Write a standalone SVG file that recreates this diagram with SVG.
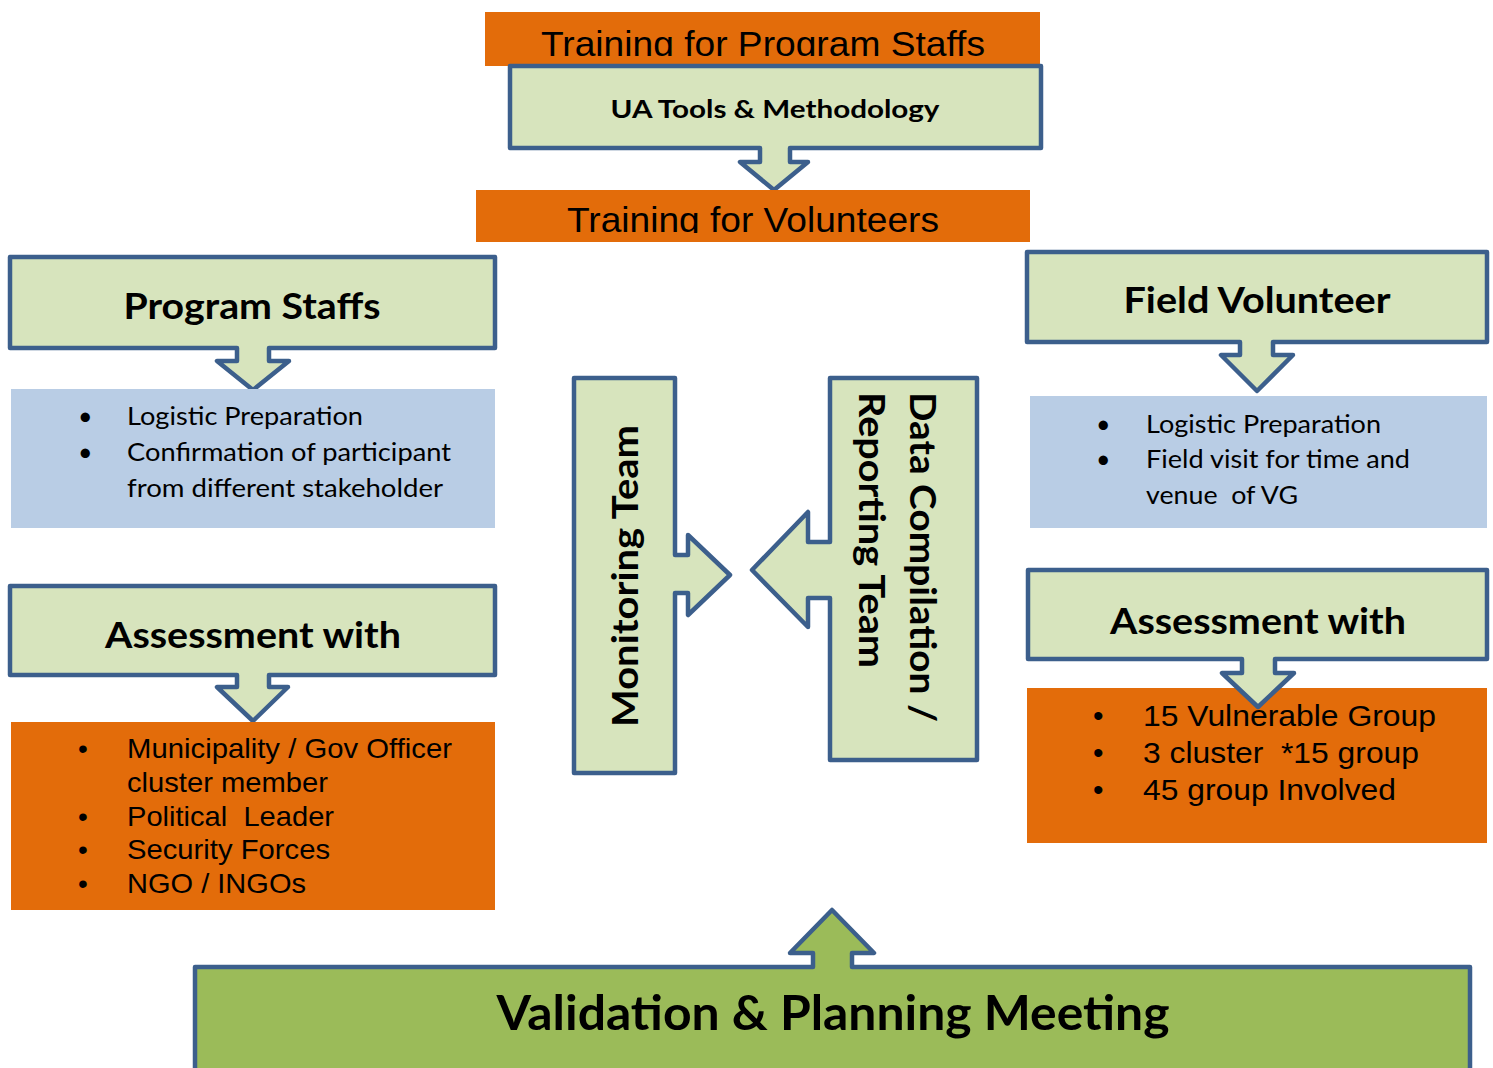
<svg xmlns="http://www.w3.org/2000/svg" width="1493" height="1068" viewBox="0 0 1493 1068">
<style>
.box{fill:#D7E4BD;stroke:#3C5F8C;stroke-width:4.5;stroke-linejoin:round}
.val{fill:#9BBB59;stroke:#3C5F8C;stroke-width:4.5;stroke-linejoin:round}
.org{fill:#E36C0A}
.blu{fill:#B9CDE5}
.ar{font-family:"Liberation Sans",Arial,sans-serif;fill:#000}
.cal{font-family:Lato,"Open Sans",sans-serif;fill:#000}
.b{font-weight:bold}
</style>
<defs>
<clipPath id="c1"><rect x="485" y="12" width="555" height="44"/></clipPath>
<clipPath id="c2"><rect x="476" y="190" width="554" height="43"/></clipPath>
</defs>
<rect width="1493" height="1068" fill="#fff"/>
<g id="connectors"/>
<g id="training-staff">
<rect class="org" x="485" y="12" width="555" height="54"/>
<text class="ar" x="763" y="56" font-size="35" text-anchor="middle" textLength="444" lengthAdjust="spacingAndGlyphs" clip-path="url(#c1)">Training for Program Staffs</text>
</g>
<g id="ua-tools">
<path class="box" d="M510,66 H1041 V148 H790 V162 H808 L774,190 L740,162 H760 V148 H510 Z"/>
<text class="cal b" x="775" y="118" font-size="25" text-anchor="middle" textLength="329" lengthAdjust="spacingAndGlyphs">UA Tools &amp; Methodology</text>
</g>
<g id="training-volunteers">
<rect class="org" x="476" y="190" width="554" height="52"/>
<text class="ar" x="753" y="232" font-size="35" text-anchor="middle" textLength="372" lengthAdjust="spacingAndGlyphs" clip-path="url(#c2)">Training for Volunteers</text>
</g>
<g id="program-staffs">
<path class="box" d="M10,257 H495 V348 H269 V361 H289 L253,390 L217,361 H237 V348 H10 Z"/>
<text class="cal b" x="252" y="319" font-size="36" text-anchor="middle" textLength="257" lengthAdjust="spacingAndGlyphs">Program Staffs</text>
</g>
<g id="staff-tasks">
<rect class="blu" x="11" y="389" width="484" height="139"/>
<g class="cal" font-size="25">
<text x="78" y="425">•</text><text x="127" y="425" textLength="236" lengthAdjust="spacingAndGlyphs">Logistic Preparation</text>
<text x="78" y="461">•</text><text x="127" y="461" textLength="324" lengthAdjust="spacingAndGlyphs">Confirmation of participant</text>
<text x="127" y="497" textLength="316" lengthAdjust="spacingAndGlyphs">from different stakeholder</text>
</g>
</g>
<g id="field-volunteer">
<path class="box" d="M1027,252 H1487 V342 H1273 V355 H1293 L1257,391 L1221,355 H1240 V342 H1027 Z"/>
<text class="cal b" x="1257" y="313" font-size="36" text-anchor="middle" textLength="267" lengthAdjust="spacingAndGlyphs">Field Volunteer</text>
</g>
<g id="volunteer-tasks">
<rect class="blu" x="1030" y="396" width="457" height="132"/>
<g class="cal" font-size="25">
<text x="1096" y="433">•</text><text x="1146" y="433" textLength="235" lengthAdjust="spacingAndGlyphs">Logistic Preparation</text>
<text x="1096" y="468">•</text><text x="1146" y="468" textLength="264" lengthAdjust="spacingAndGlyphs">Field visit for time and</text>
<text x="1146" y="504" textLength="152" lengthAdjust="spacingAndGlyphs" xml:space="preserve">venue  of VG</text>
</g>
</g>
<g id="assessment-left">
<path class="box" d="M10,586 H495 V675 H269 V687 H288 L253,721 L217,687 H237 V675 H10 Z"/>
<text class="cal b" x="253" y="648" font-size="36" text-anchor="middle" textLength="296" lengthAdjust="spacingAndGlyphs">Assessment with</text>
</g>
<g id="stakeholders">
<rect class="org" x="11" y="722" width="484" height="188"/>
<g class="ar" font-size="28">
<text x="78" y="758">•</text><text x="127" y="758" textLength="325" lengthAdjust="spacingAndGlyphs">Municipality / Gov Officer</text>
<text x="127" y="792" textLength="201" lengthAdjust="spacingAndGlyphs">cluster member</text>
<text x="78" y="826">•</text><text x="127" y="826" textLength="207" lengthAdjust="spacingAndGlyphs" xml:space="preserve">Political  Leader</text>
<text x="78" y="859">•</text><text x="127" y="859" textLength="203" lengthAdjust="spacingAndGlyphs">Security Forces</text>
<text x="78" y="893">•</text><text x="127" y="893" textLength="179" lengthAdjust="spacingAndGlyphs">NGO / INGOs</text>
</g>
</g>
<g id="monitoring-team">
<path class="box" d="M574,378 H675 V555 H688 V535 L730,575 L688,615 V593 H675 V773 H574 Z"/>
<text class="cal b" transform="translate(638,576) rotate(-90)" x="0" y="0" font-size="36" text-anchor="middle" textLength="302" lengthAdjust="spacingAndGlyphs">Monitoring Team</text>
</g>
<g id="data-compilation">
<path class="box" d="M830,378 H977 V760 H830 V598 H808 V627 L752,570 L808,512 V542 H830 Z"/>
<text class="cal b" transform="translate(910,392) rotate(90)" x="0" y="0" font-size="37" textLength="330" lengthAdjust="spacingAndGlyphs">Data Compilation /</text>
<text class="cal b" transform="translate(859,392) rotate(90)" x="0" y="0" font-size="37" textLength="276" lengthAdjust="spacingAndGlyphs">Reporting Team</text>
</g>
<g id="vulnerable-groups-box">
<rect class="org" x="1027" y="688" width="460" height="155"/>
</g>
<g id="assessment-right">
<path class="box" d="M1028,570 H1487 V659 H1275 V673 H1294 L1258,707 L1222,673 H1242 V659 H1028 Z"/>
<text class="cal b" x="1258" y="634" font-size="36" text-anchor="middle" textLength="296" lengthAdjust="spacingAndGlyphs">Assessment with</text>
</g>
<g id="vulnerable-groups">
<g class="ar" font-size="30">
<text x="1093" y="726">•</text><text x="1143" y="726" textLength="293" lengthAdjust="spacingAndGlyphs">15 Vulnerable Group</text>
<text x="1093" y="763">•</text><text x="1143" y="763" textLength="276" lengthAdjust="spacingAndGlyphs" xml:space="preserve">3 cluster  *15 group</text>
<text x="1093" y="800">•</text><text x="1143" y="800" textLength="253" lengthAdjust="spacingAndGlyphs">45 group Involved</text>
</g>
</g>
<g id="validation-meeting">
<path class="val" d="M195,967 H813 V953 H790 L832,910 L874,953 H852 V967 H1470 V1075 H195 Z"/>
<text class="cal b" x="833" y="1030" font-size="48" text-anchor="middle" textLength="673" lengthAdjust="spacingAndGlyphs">Validation &amp; Planning Meeting</text>
</g>
</svg>
